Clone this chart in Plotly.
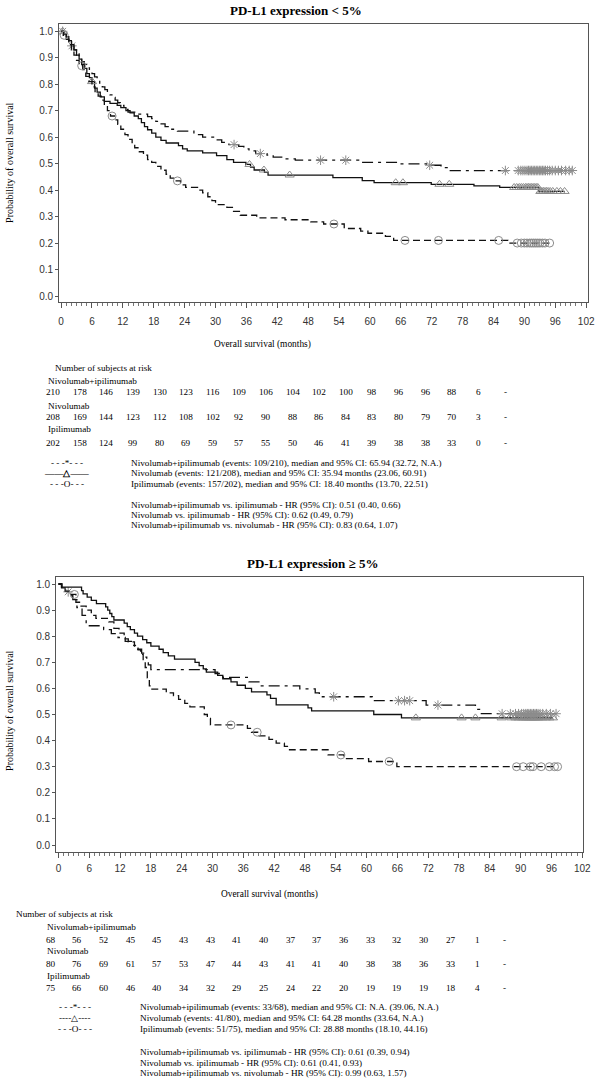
import numpy as np
import plotly.graph_objects as go

W, H = 607, 1083

# ---------------- DATA : PD-L1 expression < 5% ----------------
lo_ni_t = [0, 0.5, 1.0, 1.5, 2.0, 2.5, 3.0, 3.5, 4.0, 4.5, 5.0, 5.5, 6.0, 6.5, 7.0, 7.5, 8.0, 8.5, 9.0,
           9.5, 10.0, 10.5, 11.0, 11.5, 12.2, 13.0, 14.5, 16.8, 17.6, 18.4, 19.2, 20.2, 21.2, 22.6,
           25.8, 27.5, 29.8, 31.2, 32.6, 34.5, 35.5, 36.5, 37.8, 40.0, 41.2, 43.0, 45.5, 57.8, 65.9,
           71.0, 73.8, 75.6]
lo_ni_s = [1.0, 0.99, 0.975, 0.96, 0.945, 0.93, 0.915, 0.90, 0.885, 0.875, 0.862, 0.85, 0.84, 0.828,
           0.815, 0.80, 0.79, 0.78, 0.77, 0.76, 0.75, 0.74, 0.73, 0.72, 0.705, 0.695, 0.687, 0.678,
           0.67, 0.66, 0.65, 0.64, 0.63, 0.623, 0.61, 0.60, 0.59, 0.58, 0.572, 0.565, 0.556, 0.548,
           0.538, 0.532, 0.525, 0.518, 0.513, 0.505, 0.499, 0.494, 0.485, 0.474]
lo_ni_c = [0.3, 2.1, 33.6, 38.7, 50.4, 55.3, 71.6, 86.3, 88.8, 89.3, 89.7, 90.1, 90.5, 90.8, 91.1,
           91.4, 91.7, 92.0, 92.3, 92.6, 92.9, 93.2, 93.5, 93.8, 94.1, 94.5, 94.9, 95.4, 96.0, 96.6,
           97.2, 98.0, 98.7, 99.3]

lo_n_t = [0, 0.5, 1.0, 1.5, 2.0, 2.5, 3.0, 3.5, 4.0, 4.5, 5.0, 5.5, 6.0, 6.5, 7.0, 7.6, 8.4, 9.5,
          10.9, 11.6, 12.6, 13.4, 14.2, 15.0, 15.6, 16.2, 16.8, 17.6, 18.4, 19.4, 20.4, 22.8, 23.6,
          24.5, 27.5, 30.2, 32.2, 33.5, 35.9, 36.8, 37.5, 39.5, 40.2, 52.8, 58.5, 60.8, 71.9, 80.2,
          85.2, 92.8]
lo_n_s = [1.0, 0.99, 0.98, 0.965, 0.95, 0.93, 0.91, 0.895, 0.875, 0.86, 0.84, 0.825, 0.81, 0.785,
          0.77, 0.752, 0.735, 0.728, 0.72, 0.712, 0.70, 0.692, 0.68, 0.67, 0.655, 0.64, 0.628, 0.615,
          0.60, 0.588, 0.578, 0.568, 0.556, 0.548, 0.541, 0.53, 0.515, 0.505, 0.497, 0.487, 0.476,
          0.467, 0.457, 0.447, 0.436, 0.428, 0.422, 0.416, 0.41, 0.395]
lo_n_c = [0.3, 6.0, 36.6, 39.4, 44.4, 65.0, 66.4, 73.5, 75.4, 88.0, 88.5, 89.0, 89.4, 89.8, 90.2,
          90.5, 90.8, 91.1, 91.4, 91.7, 92.0, 92.3, 92.6, 93.1, 93.4, 93.7, 94.0, 94.3, 94.6, 95.0,
          95.5, 96.3, 97.0, 97.8]

lo_i_t = [0, 0.5, 1.0, 1.5, 2.0, 2.5, 3.0, 3.5, 4.2, 4.8, 5.4, 6.0, 6.6, 7.2, 7.8, 8.4, 9.0, 9.6,
          10.4, 11.0, 11.6, 12.4, 13.0, 13.8, 14.3, 15.2, 16.0, 16.8, 17.6, 18.4, 19.4, 20.4, 21.2,
          22.0, 23.2, 24.2, 26.5, 27.5, 28.5, 29.3, 30.0, 32.2, 33.5, 34.8, 38.0, 43.5, 48.5, 51.0,
          55.0, 58.2, 59.6, 63.0, 64.6, 86.8]
lo_i_s = [1.0, 0.985, 0.97, 0.95, 0.93, 0.91, 0.89, 0.87, 0.855, 0.83, 0.81, 0.79, 0.772, 0.755,
          0.74, 0.72, 0.70, 0.68, 0.665, 0.648, 0.63, 0.61, 0.592, 0.575, 0.56, 0.545, 0.532, 0.515,
          0.505, 0.49, 0.475, 0.46, 0.445, 0.435, 0.42, 0.41, 0.40, 0.39, 0.375, 0.36, 0.345, 0.335,
          0.32, 0.305, 0.295, 0.288, 0.28, 0.272, 0.255, 0.245, 0.237, 0.225, 0.21, 0.20]
lo_i_c = [0.6, 4.0, 9.9, 22.6, 53.0, 66.8, 73.3, 85.0, 88.6, 89.4, 90.0, 90.5, 91.0, 91.4, 91.8,
          92.2, 92.6, 93.0, 93.5, 94.0, 94.9]

# ---------------- DATA : PD-L1 expression >= 5% ----------------
hi_ni_t = [0, 0.6, 1.3, 2.0, 2.8, 3.6, 4.6, 5.4, 8.8, 10.3, 11.6, 13.0, 14.2, 15.2, 16.2, 16.8,
           17.2, 17.5, 18.0, 30.5, 32.0, 37.1, 39.5, 47.0, 50.0, 50.8, 61.1, 71.6, 81.2, 82.0]
hi_ni_s = [1.0, 0.985, 0.97, 0.955, 0.94, 0.91, 0.88, 0.84, 0.825, 0.81, 0.795, 0.78, 0.765, 0.75,
           0.735, 0.72, 0.705, 0.69, 0.672, 0.657, 0.642, 0.625, 0.61, 0.598, 0.583, 0.568, 0.553,
           0.536, 0.52, 0.503]
hi_ni_c = [1.9, 53.6, 66.2, 67.4, 68.4, 73.9, 86.4, 88.0, 89.0, 89.6, 90.2, 90.6, 91.0, 91.3, 91.6,
           91.9, 92.2, 92.5, 92.8, 93.1, 93.4, 93.8, 94.3, 95.0, 95.8, 96.9]

hi_n_t = [0, 0.6, 4.5, 4.8, 5.6, 6.4, 7.4, 9.2, 9.6, 10.0, 10.4, 10.8, 12.8, 13.4, 14.0, 14.8, 15.4,
          16.4, 17.2, 18.0, 19.6, 20.4, 21.4, 22.6, 26.6, 27.4, 28.2, 28.8, 31.0, 32.0, 33.6, 34.8,
          36.4, 37.6, 40.6, 41.3, 42.4, 48.6, 49.3, 61.4, 66.8]
hi_n_s = [1.0, 0.988, 0.975, 0.962, 0.95, 0.937, 0.925, 0.912, 0.90, 0.887, 0.875, 0.862, 0.85,
          0.837, 0.825, 0.812, 0.80, 0.787, 0.775, 0.762, 0.75, 0.737, 0.725, 0.712, 0.70, 0.687,
          0.675, 0.662, 0.65, 0.637, 0.625, 0.612, 0.60, 0.587, 0.575, 0.562, 0.537, 0.525, 0.514,
          0.50, 0.487]
hi_n_c = [69.6, 78.5, 81.2, 86.3, 88.2, 89.0, 89.6, 90.1, 90.5, 90.9, 91.3, 91.6, 91.9, 92.2, 92.5,
          92.8, 93.1, 93.4, 93.8, 94.3, 94.9, 95.6, 96.3]

hi_i_t = [0, 0.7, 1.3, 2.0, 3.4, 4.4, 5.4, 6.4, 7.3, 9.8, 10.8, 11.8, 12.8, 13.6, 14.8, 15.5, 16.0,
          16.5, 16.9, 17.3, 17.7, 18.0, 21.0, 22.4, 23.4, 24.6, 25.6, 28.4, 29.0, 29.6, 36.8, 37.6,
          38.8, 41.0, 42.4, 44.0, 45.0, 52.5, 55.6, 60.4, 65.9]
hi_i_s = [1.0, 0.987, 0.973, 0.96, 0.93, 0.915, 0.90, 0.88, 0.868, 0.855, 0.83, 0.812, 0.79, 0.778,
          0.762, 0.748, 0.73, 0.71, 0.68, 0.64, 0.61, 0.597, 0.583, 0.572, 0.558, 0.543, 0.529,
          0.50, 0.485, 0.46, 0.447, 0.432, 0.418, 0.405, 0.39, 0.378, 0.365, 0.345, 0.331, 0.32,
          0.30]
hi_i_c = [3.1, 33.6, 38.7, 55.0, 64.4, 89.2, 90.5, 91.9, 92.4, 94.0, 95.6, 96.6, 97.2]

# ---------------- Risk tables ----------------
risk_times = [0, 6, 12, 18, 24, 30, 36, 42, 48, 54, 60, 66, 72, 78, 84, 90, 96, 102]
lo_risk_ni = [210, 178, 146, 139, 130, 123, 116, 109, 106, 104, 102, 100, 98, 96, 96, 88, 6, None]
lo_risk_n = [208, 169, 144, 123, 112, 108, 102, 92, 90, 88, 86, 84, 83, 80, 79, 70, 3, None]
lo_risk_i = [202, 158, 124, 99, 80, 69, 59, 57, 55, 50, 46, 41, 39, 38, 38, 33, 0, None]
hi_risk_ni = [68, 56, 52, 45, 45, 43, 43, 41, 40, 37, 37, 36, 33, 32, 30, 27, 1, None]
hi_risk_n = [80, 76, 69, 61, 57, 53, 47, 44, 43, 41, 41, 40, 38, 38, 36, 33, 1, None]
hi_risk_i = [75, 66, 60, 46, 40, 34, 32, 29, 25, 24, 22, 20, 19, 19, 19, 18, 4, None]

arm_names = ["Nivolumab+ipilimumab", "Nivolumab", "Ipilimumab"]
lo_legend = ["Nivolumab+ipilimumab (events: 109/210), median and 95% CI: 65.94 (32.72, N.A.)",
             "Nivolumab (events: 121/208), median and 95% CI: 35.94 months (23.06, 60.91)",
             "Ipilimumab (events: 157/202), median and 95% CI: 18.40 months (13.70, 22.51)"]
lo_hr = ["Nivolumab+ipilimumab vs. ipilimumab - HR (95% CI): 0.51 (0.40, 0.66)",
         "Nivolumab vs. ipilimumab - HR (95% CI): 0.62 (0.49, 0.79)",
         "Nivolumab+ipilimumab vs. nivolumab - HR (95% CI): 0.83 (0.64, 1.07)"]
hi_legend = ["Nivolumab+ipilimumab (events: 33/68), median and 95% CI: N.A. (39.06, N.A.)",
             "Nivolumab (events: 41/80), median and 95% CI: 64.28 months (33.64, N.A.)",
             "Ipilimumab (events: 51/75), median and 95% CI: 28.88 months (18.10, 44.16)"]
hi_hr = ["Nivolumab+ipilimumab vs. ipilimumab - HR (95% CI): 0.61 (0.39, 0.94)",
         "Nivolumab vs. ipilimumab - HR (95% CI): 0.61 (0.41, 0.93)",
         "Nivolumab+ipilimumab vs. nivolumab - HR (95% CI): 0.99 (0.63, 1.57)"]
lo_symbols = ["- - -*- - -", "<b>——△——</b>", "- - -O- - -"]
hi_symbols = ["- - -*- - -", "----△----", "- - -O- - -"]

# ---------------- figure ----------------
SERIF = "Liberation Serif, Times New Roman, serif"
SANS = "Liberation Sans, Arial, sans-serif"
fig = go.Figure()

DASH_NI = "11px,5px,3px,5px"
DASH_I = "7px,4px"
MARK_C = "#8c8c8c"


def add_arm(t, s, c, dash, symbol, xa, ya):
    tend = max(max(c), t[-1])
    xs = list(t) + [tend]
    ys = list(s) + [s[-1]]
    fig.add_trace(go.Scatter(x=xs, y=ys, mode="lines", xaxis=xa, yaxis=ya,
                             line=dict(shape="hv", color="#111", width=1.3, dash=dash),
                             showlegend=False, hoverinfo="skip"))
    ta, sa = np.array(t), np.array(s)
    idx = np.searchsorted(ta, np.array(c), side="right") - 1
    fig.add_trace(go.Scatter(x=c, y=sa[idx], mode="markers", xaxis=xa, yaxis=ya,
                             marker=dict(symbol=symbol, size=8, color=MARK_C,
                                         line=dict(width=1, color=MARK_C)),
                             showlegend=False, hoverinfo="skip"))


add_arm(lo_ni_t, lo_ni_s, lo_ni_c, DASH_NI, "asterisk-open", "x", "y")
add_arm(lo_n_t, lo_n_s, lo_n_c, "solid", "triangle-up-open", "x", "y")
add_arm(lo_i_t, lo_i_s, lo_i_c, DASH_I, "circle-open", "x", "y")
add_arm(hi_ni_t, hi_ni_s, hi_ni_c, DASH_NI, "asterisk-open", "x2", "y2")
add_arm(hi_n_t, hi_n_s, hi_n_c, "solid", "triangle-up-open", "x2", "y2")
add_arm(hi_i_t, hi_i_s, hi_i_c, DASH_I, "circle-open", "x2", "y2")

# panel geometry in pixels: frame L,R,T,B ; x0px, x102px ; y1px, y0px
panels = [dict(L=59, R=595.5, T=24, B=302, x0=61, x102=594, y1=31.3, y0=296, sto=5),
          dict(L=56, R=590.7, T=577.3, B=851.7, x0=58.3, x102=590, y1=584, y0=845, sto=2)]

axes = {}
for k, p in enumerate(panels):
    sx = (p["x102"] - p["x0"]) / 102.0
    sy = (p["y0"] - p["y1"])
    xr = [(p["L"] - p["x0"]) / sx, (p["R"] - p["x0"]) / sx]
    yr = [-(p["B"] - p["y0"]) / sy, 1 + (p["y1"] - p["T"]) / sy]
    suf = "" if k == 0 else "2"
    axes["xaxis" + suf] = dict(
        domain=[p["L"] / W, p["R"] / W], range=xr, anchor="y" + suf,
        tickmode="array", tickvals=risk_times, ticks="outside", ticklen=5,
        tickcolor="#555", showline=True, linecolor="#555", linewidth=1, mirror=True,
        showgrid=False, zeroline=False, ticklabelstandoff=p["sto"],
        minor=dict(dtick=1, tick0=0, ticks="outside", ticklen=3, tickcolor="#777", showgrid=False),
        tickfont=dict(family=SANS, size=10, color="#333"))
    axes["yaxis" + suf] = dict(
        domain=[1 - p["B"] / H, 1 - p["T"] / H], range=yr, anchor="x" + suf,
        tick0=0, dtick=0.1, tickformat=".1f", ticks="outside", ticklen=3, tickcolor="#555",
        showline=True, linecolor="#555", linewidth=1, mirror=True,
        showgrid=False, zeroline=False,
        tickfont=dict(family=SANS, size=10, color="#333"))

fig.update_layout(width=W, height=H, margin=dict(l=0, r=0, t=0, b=0), autosize=False,
                  plot_bgcolor="white", paper_bgcolor="white", showlegend=False, **axes)

ann = []


def txt(x, y, s, size=9.2, anchor="left", angle=0):
    ann.append(dict(x=x / W, y=1 - y / H, xref="paper", yref="paper", text=s, showarrow=False,
                    xanchor=anchor, yanchor="middle", textangle=angle,
                    font=dict(family=SERIF, size=size, color="black")))


# titles
txt(299, 10, "<b>PD-L1 expression < 5%</b>", size=13, anchor="center")
txt(316.5, 563, "<b>PD-L1 expression ≥ 5%</b>", size=13, anchor="center")
txt(265, 344, "Overall survival (months)", size=9.4, anchor="center")
txt(273, 894, "Overall survival (months)", size=9.4, anchor="center")
txt(8, 163, "Probability of overall survival", size=10, anchor="center", angle=-90)
txt(8, 711, "Probability of overall survival", size=10, anchor="center", angle=-90)

# risk tables
tables = [
    dict(head=(53, 368), lab_x=46, lab_y=[381, 406, 429], row_y=[392, 417, 443], c0=53, dc=27,
         rows=[lo_risk_ni, lo_risk_n, lo_risk_i], sym_x=67, sym_y=[463, 473, 484], tx=130,
         leg=lo_legend, hr=lo_hr, hr_y=[505, 515, 525], syms=lo_symbols),
    dict(head=(13, 914), lab_x=45, lab_y=[927, 951, 976], row_y=[939.5, 963.5, 988.5], c0=50.3,
         dc=27.08, rows=[hi_risk_ni, hi_risk_n, hi_risk_i], sym_x=75, sym_y=[1007, 1018, 1029],
         tx=139, leg=hi_legend, hr=hi_hr, hr_y=[1052, 1063, 1073], syms=hi_symbols),
]
for tb in tables:
    txt(tb["head"][0], tb["head"][1], "Number of subjects at risk")
    for r in range(3):
        txt(tb["lab_x"], tb["lab_y"][r], arm_names[r])
        for j, v in enumerate(tb["rows"][r]):
            txt(tb["c0"] + tb["dc"] * j, tb["row_y"][r], "-" if v is None else str(v), anchor="center")
        txt(tb["sym_x"], tb["sym_y"][r], tb["syms"][r], anchor="center")
        txt(tb["tx"], tb["sym_y"][r], tb["leg"][r])
        txt(tb["tx"], tb["hr_y"][r], tb["hr"][r])

fig.update_layout(annotations=ann)
fig.write_html("out.html", config={"displayModeBar": False},
               post_script="document.body.style.margin='0';document.body.style.overflow='hidden';")
